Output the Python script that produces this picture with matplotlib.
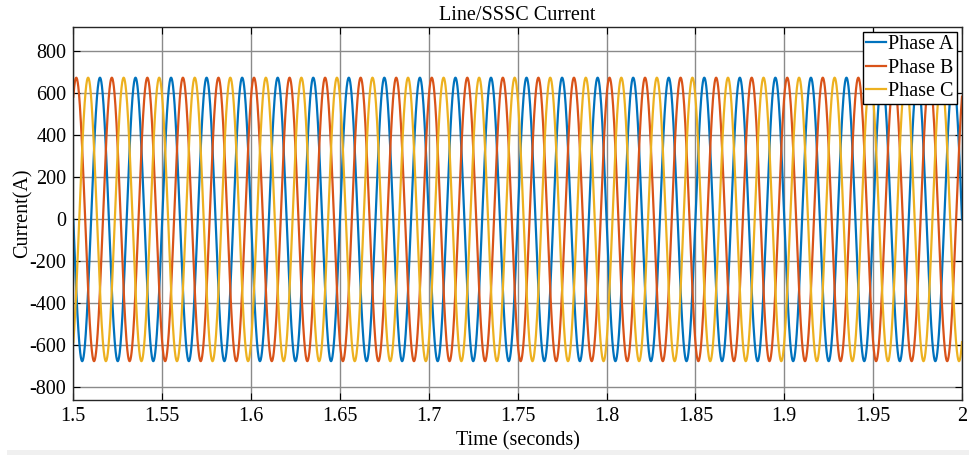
import numpy as np
import matplotlib.pyplot as plt
from matplotlib.patches import Rectangle

# values
phases = ['Phase A', 'Phase B', 'Phase C']
colors = ['#0072BD', '#D95319', '#EDB120']
amplitude = 675          # A, peak current
freq = 50                # Hz
t_peak_a = 1.515         # time of a phase A peak (s)
shift_deg = [0, -120, 120]

xticks = [1.5, 1.55, 1.6, 1.65, 1.7, 1.75, 1.8, 1.85, 1.9, 1.95, 2.0]
xtick_labels = ['1.5', '1.55', '1.6', '1.65', '1.7', '1.75', '1.8', '1.85', '1.9', '1.95', '2']
yticks = [-800, -600, -400, -200, 0, 200, 400, 600, 800]

plt.rcParams['font.family'] = ['Liberation Serif', 'DejaVu Serif']
plt.rcParams['axes.unicode_minus'] = False

t = np.linspace(1.5, 2.0, 5001)
w = 2 * np.pi * freq

fig = plt.figure(figsize=(9.69, 4.55), dpi=100)
ax = fig.add_axes([73.3/969, 1 - 400/455, (962 - 73.3)/969, (400 - 27.3)/455])

for name, c, sh in zip(phases, colors, shift_deg):
    i_ph = amplitude * np.cos(w * (t - t_peak_a) + np.deg2rad(sh))
    ax.plot(t, i_ph, color=c, linewidth=1.6, label=name)

ax.set_xlim(1.5, 2.0)
ax.set_ylim(-860, 915)
ax.set_xticks(xticks)
ax.set_xticklabels(xtick_labels)
ax.set_yticks(yticks)
ax.grid(True, color='#8a8a8a', linewidth=1)
ax.set_axisbelow(True)
ax.tick_params(direction='in', length=5, top=True, right=True, labelsize=14.5, pad=5)
for s in ax.spines.values():
    s.set_color('#262626')
    s.set_linewidth(1)

ax.set_title('Line/SSSC Current', fontsize=14.5, pad=5)
ax.set_xlabel('Time (seconds)', fontsize=14.5, labelpad=4)
ax.set_ylabel('Current(A)', fontsize=14.5, labelpad=-2)

leg = ax.legend(loc='upper right', fontsize=14.5, frameon=True, fancybox=False,
                borderaxespad=0.25, handlelength=1.0, handletextpad=0.1,
                borderpad=0.15, labelspacing=0.2)
leg.get_frame().set_edgecolor('black')
leg.get_frame().set_linewidth(1)
leg.get_frame().set_alpha(1)

fig.patches.append(Rectangle((7/969, 0), 1, 5/455, transform=fig.transFigure,
                             facecolor='#f0f0f0', edgecolor='none'))

fig.savefig('out.png', dpi=100)
